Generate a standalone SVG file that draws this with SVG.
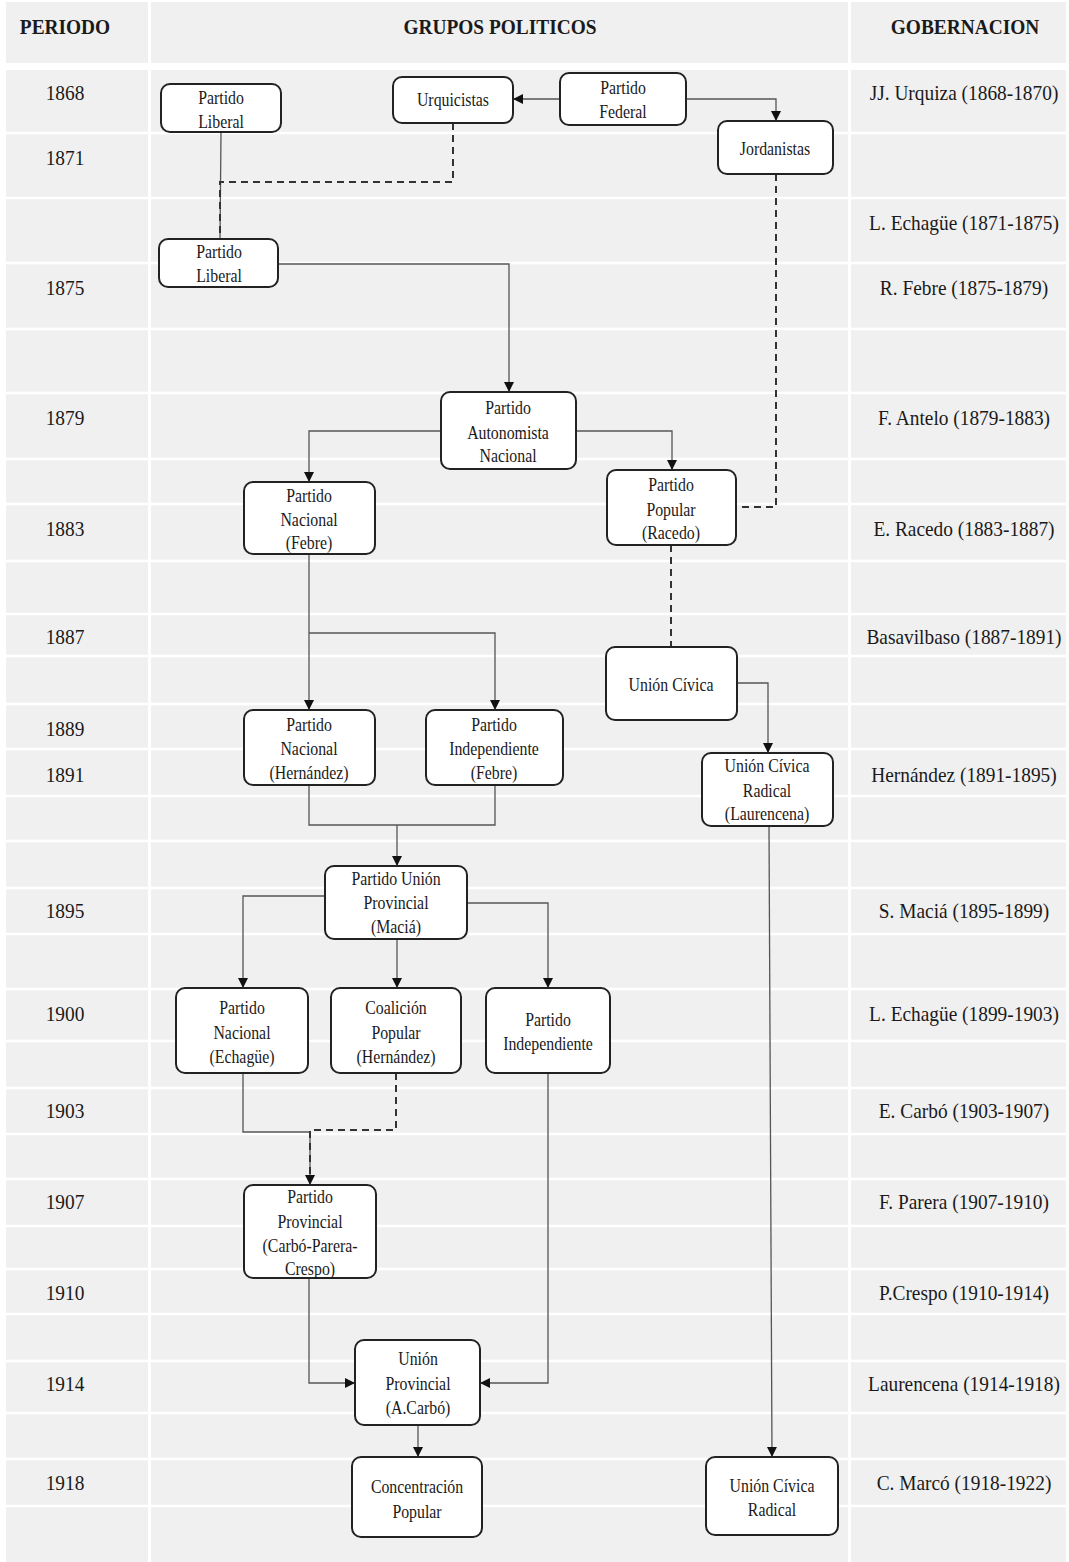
<svg xmlns="http://www.w3.org/2000/svg" width="1069" height="1562" viewBox="0 0 1069 1562">
<style>
text { font-family: "Liberation Serif", "Times New Roman", serif; fill: #1a1a1a; text-anchor: middle; transform-box: fill-box; transform-origin: center; transform: scaleX(0.88); }
.h { font-size: 22px; font-weight: bold; }
.yr { font-size: 22px; }
.gv { font-size: 22px; }
.nt { font-size: 18px; }
.box { fill: #ffffff; stroke: #222222; stroke-width: 2; }
.c { fill: none; stroke: #555555; stroke-width: 1.3; }
.d { fill: none; stroke: #333333; stroke-width: 2; stroke-dasharray: 7 5; }
.sep { stroke: #ffffff; }
</style>
<defs>
<marker id="arr" viewBox="0 0 10 10" refX="10" refY="5" markerWidth="10" markerHeight="10" markerUnits="userSpaceOnUse" orient="auto">
<path d="M0,0 L10,5 L0,10 z" fill="#111111"/>
</marker>
</defs>
<rect x="0" y="0" width="1069" height="1562" fill="#ffffff"/>
<g id="grid">
<rect x="6" y="2" width="1060" height="1560" fill="#f0f0f0"/>
<rect x="6" y="63" width="1060" height="7" fill="#ffffff"/>
<g class="sep" stroke-width="2.5">
<line x1="6" y1="133" x2="1066" y2="133"/>
<line x1="6" y1="198" x2="1066" y2="198"/>
<line x1="6" y1="263" x2="1066" y2="263"/>
<line x1="6" y1="329" x2="1066" y2="329"/>
<line x1="6" y1="393" x2="1066" y2="393"/>
<line x1="6" y1="459" x2="1066" y2="459"/>
<line x1="6" y1="504" x2="1066" y2="504"/>
<line x1="6" y1="561" x2="1066" y2="561"/>
<line x1="6" y1="614" x2="1066" y2="614"/>
<line x1="6" y1="656" x2="1066" y2="656"/>
<line x1="6" y1="704" x2="1066" y2="704"/>
<line x1="6" y1="749" x2="1066" y2="749"/>
<line x1="6" y1="796" x2="1066" y2="796"/>
<line x1="6" y1="841" x2="1066" y2="841"/>
<line x1="6" y1="888" x2="1066" y2="888"/>
<line x1="6" y1="934" x2="1066" y2="934"/>
<line x1="6" y1="989" x2="1066" y2="989"/>
<line x1="6" y1="1041" x2="1066" y2="1041"/>
<line x1="6" y1="1088" x2="1066" y2="1088"/>
<line x1="6" y1="1134" x2="1066" y2="1134"/>
<line x1="6" y1="1179" x2="1066" y2="1179"/>
<line x1="6" y1="1226" x2="1066" y2="1226"/>
<line x1="6" y1="1269" x2="1066" y2="1269"/>
<line x1="6" y1="1314" x2="1066" y2="1314"/>
<line x1="6" y1="1361" x2="1066" y2="1361"/>
<line x1="6" y1="1413" x2="1066" y2="1413"/>
<line x1="6" y1="1459" x2="1066" y2="1459"/>
<line x1="6" y1="1506" x2="1066" y2="1506"/>
</g>
<g class="sep" stroke-width="3">
<line x1="149.5" y1="2" x2="149.5" y2="1562"/>
<line x1="849.5" y1="2" x2="849.5" y2="1562"/>
</g>
</g>
<g id="headers">
<text class="h" x="65" y="34">PERIODO</text>
<text class="h" x="500" y="34">GRUPOS POLITICOS</text>
<text class="h" x="965" y="34">GOBERNACION</text>
</g>
<g id="years">
<text class="yr" x="65" y="100">1868</text>
<text class="yr" x="65" y="165">1871</text>
<text class="yr" x="65" y="295">1875</text>
<text class="yr" x="65" y="425">1879</text>
<text class="yr" x="65" y="536">1883</text>
<text class="yr" x="65" y="644">1887</text>
<text class="yr" x="65" y="736">1889</text>
<text class="yr" x="65" y="782">1891</text>
<text class="yr" x="65" y="918">1895</text>
<text class="yr" x="65" y="1021">1900</text>
<text class="yr" x="65" y="1118">1903</text>
<text class="yr" x="65" y="1209">1907</text>
<text class="yr" x="65" y="1300">1910</text>
<text class="yr" x="65" y="1391">1914</text>
<text class="yr" x="65" y="1490">1918</text>
</g>
<g id="governors">
<text class="gv" x="964" y="100">JJ. Urquiza (1868-1870)</text>
<text class="gv" x="964" y="230">L. Echagüe (1871-1875)</text>
<text class="gv" x="964" y="295">R. Febre (1875-1879)</text>
<text class="gv" x="964" y="425">F. Antelo (1879-1883)</text>
<text class="gv" x="964" y="536">E. Racedo (1883-1887)</text>
<text class="gv" x="964" y="644">Basavilbaso (1887-1891)</text>
<text class="gv" x="964" y="782">Hernández (1891-1895)</text>
<text class="gv" x="964" y="918">S. Maciá (1895-1899)</text>
<text class="gv" x="964" y="1021">L. Echagüe (1899-1903)</text>
<text class="gv" x="964" y="1118">E. Carbó (1903-1907)</text>
<text class="gv" x="964" y="1209">F. Parera (1907-1910)</text>
<text class="gv" x="964" y="1300">P.Crespo (1910-1914)</text>
<text class="gv" x="964" y="1391">Laurencena (1914-1918)</text>
<text class="gv" x="964" y="1490">C. Marcó (1918-1922)</text>
</g>
<g id="connectors">
<path class="c" d="M560,99 H513" marker-end="url(#arr)"/>
<path class="c" d="M686,99 H776 V121" marker-end="url(#arr)"/>
<path class="c" d="M221,132 L220,239"/>
<path class="d" d="M453,123 V182 H220 V239"/>
<path class="c" d="M278,264 H509 V392" marker-end="url(#arr)"/>
<path class="c" d="M441,431 H309 V482" marker-end="url(#arr)"/>
<path class="c" d="M576,431 H672 V470" marker-end="url(#arr)"/>
<path class="d" d="M776,174 V507 H736"/>
<path class="d" d="M671,545 V647"/>
<path class="c" d="M309,554 V710" marker-end="url(#arr)"/>
<path class="c" d="M309,633 H495 V710" marker-end="url(#arr)"/>
<path class="c" d="M737,683 H768 V753" marker-end="url(#arr)"/>
<path class="c" d="M309,785 V825 H495 V785"/>
<path class="c" d="M397,825 V866" marker-end="url(#arr)"/>
<path class="c" d="M325,896 H243 V988" marker-end="url(#arr)"/>
<path class="c" d="M397,939 V988" marker-end="url(#arr)"/>
<path class="c" d="M467,903 H548 V988" marker-end="url(#arr)"/>
<path class="c" d="M769,826 L772,1457" marker-end="url(#arr)"/>
<path class="c" d="M243,1073 V1132 H310 V1185" marker-end="url(#arr)"/>
<path class="d" d="M396,1073 V1130 H310 V1178"/>
<path class="c" d="M309,1278 V1383 H355" marker-end="url(#arr)"/>
<path class="c" d="M548,1073 V1383 H480" marker-end="url(#arr)"/>
<path class="c" d="M418,1425 V1457" marker-end="url(#arr)"/>
</g>
<g id="n-liberal1"><rect class="box" x="161" y="84" width="120" height="48" rx="9"/><text class="nt"><tspan x="221" y="104">Partido</tspan><tspan x="221" y="128">Liberal</tspan></text></g>
<g id="n-urquicistas"><rect class="box" x="393" y="77" width="120" height="46" rx="9"/><text class="nt" x="453" y="106">Urquicistas</text></g>
<g id="n-federal"><rect class="box" x="560" y="73" width="126" height="52" rx="9"/><text class="nt"><tspan x="623" y="94">Partido</tspan><tspan x="623" y="118">Federal</tspan></text></g>
<g id="n-jordanistas"><rect class="box" x="718" y="121" width="115" height="53" rx="9"/><text class="nt" x="775" y="155">Jordanistas</text></g>
<g id="n-liberal2"><rect class="box" x="159" y="239" width="119" height="48" rx="9"/><text class="nt"><tspan x="219" y="258">Partido</tspan><tspan x="219" y="282">Liberal</tspan></text></g>
<g id="n-pan"><rect class="box" x="441" y="392" width="135" height="77" rx="9"/><text class="nt"><tspan x="508" y="414">Partido</tspan><tspan x="508" y="439">Autonomista</tspan><tspan x="508" y="462">Nacional</tspan></text></g>
<g id="n-nacional-febre"><rect class="box" x="244" y="482" width="131" height="72" rx="9"/><text class="nt"><tspan x="309" y="502">Partido</tspan><tspan x="309" y="526">Nacional</tspan><tspan x="309" y="549">(Febre)</tspan></text></g>
<g id="n-popular"><rect class="box" x="607" y="470" width="129" height="75" rx="9"/><text class="nt"><tspan x="671" y="491">Partido</tspan><tspan x="671" y="516">Popular</tspan><tspan x="671" y="539">(Racedo)</tspan></text></g>
<g id="n-union-civica"><rect class="box" x="606" y="647" width="131" height="73" rx="9"/><text class="nt" x="671" y="691">Unión Cívica</text></g>
<g id="n-nacional-hernandez"><rect class="box" x="244" y="710" width="131" height="75" rx="9"/><text class="nt"><tspan x="309" y="731">Partido</tspan><tspan x="309" y="755">Nacional</tspan><tspan x="309" y="779">(Hernández)</tspan></text></g>
<g id="n-independiente-febre"><rect class="box" x="426" y="710" width="137" height="75" rx="9"/><text class="nt"><tspan x="494" y="731">Partido</tspan><tspan x="494" y="755">Independiente</tspan><tspan x="494" y="779">(Febre)</tspan></text></g>
<g id="n-ucr-laurencena"><rect class="box" x="702" y="753" width="131" height="73" rx="9"/><text class="nt"><tspan x="767" y="772">Unión Cívica</tspan><tspan x="767" y="797">Radical</tspan><tspan x="767" y="820">(Laurencena)</tspan></text></g>
<g id="n-pup"><rect class="box" x="325" y="866" width="142" height="73" rx="9"/><text class="nt"><tspan x="396" y="885">Partido Unión</tspan><tspan x="396" y="909">Provincial</tspan><tspan x="396" y="933">(Maciá)</tspan></text></g>
<g id="n-nacional-echague"><rect class="box" x="176" y="988" width="132" height="85" rx="9"/><text class="nt"><tspan x="242" y="1014">Partido</tspan><tspan x="242" y="1039">Nacional</tspan><tspan x="242" y="1063">(Echagüe)</tspan></text></g>
<g id="n-coalicion"><rect class="box" x="331" y="988" width="130" height="85" rx="9"/><text class="nt"><tspan x="396" y="1014">Coalición</tspan><tspan x="396" y="1039">Popular</tspan><tspan x="396" y="1063">(Hernández)</tspan></text></g>
<g id="n-independiente"><rect class="box" x="486" y="988" width="124" height="85" rx="9"/><text class="nt"><tspan x="548" y="1026">Partido</tspan><tspan x="548" y="1050">Independiente</tspan></text></g>
<g id="n-provincial"><rect class="box" x="244" y="1185" width="132" height="93" rx="9"/><text class="nt"><tspan x="310" y="1203">Partido</tspan><tspan x="310" y="1228">Provincial</tspan><tspan x="310" y="1252">(Carbó-Parera-</tspan><tspan x="310" y="1275">Crespo)</tspan></text></g>
<g id="n-union-provincial"><rect class="box" x="355" y="1340" width="125" height="85" rx="9"/><text class="nt"><tspan x="418" y="1365">Unión</tspan><tspan x="418" y="1390">Provincial</tspan><tspan x="418" y="1414">(A.Carbó)</tspan></text></g>
<g id="n-concentracion"><rect class="box" x="352" y="1457" width="130" height="80" rx="9"/><text class="nt"><tspan x="417" y="1493">Concentración</tspan><tspan x="417" y="1518">Popular</tspan></text></g>
<g id="n-ucr"><rect class="box" x="706" y="1457" width="132" height="78" rx="9"/><text class="nt"><tspan x="772" y="1492">Unión Cívica</tspan><tspan x="772" y="1516">Radical</tspan></text></g>
</svg>
